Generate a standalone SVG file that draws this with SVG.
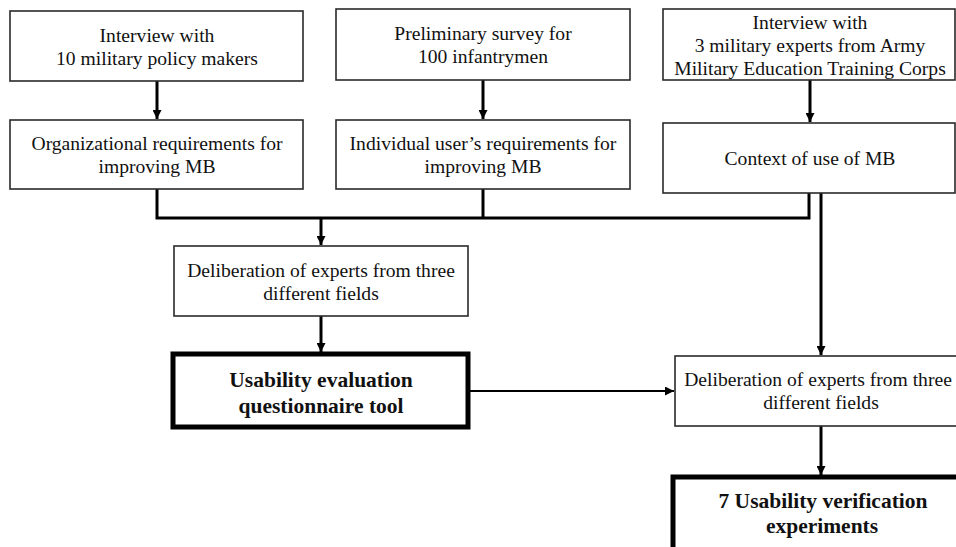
<svg xmlns="http://www.w3.org/2000/svg" width="956" height="547" viewBox="0 0 956 547">
<defs>
<style>
.box{fill:#fff;stroke:#2a2a2a;stroke-width:1.6}
.bold{fill:#fff;stroke:#000;stroke-width:5}
.t{font-family:"Liberation Serif","Times New Roman",serif;font-size:19.6px;fill:#111;text-anchor:middle}
.tb{font-family:"Liberation Serif","Times New Roman",serif;font-size:21.5px;font-weight:bold;fill:#111;text-anchor:middle}
.c{fill:none;stroke:#000;stroke-width:3}
.c2{fill:none;stroke:#000;stroke-width:2}
</style>
<marker id="ah" viewBox="0 0 10 10" refX="10" refY="5" markerWidth="9" markerHeight="9" markerUnits="userSpaceOnUse" orient="auto">
<path d="M0,0 L10,5 L0,10 z" fill="#000"/>
</marker>
</defs>
<rect width="956" height="547" fill="#fff"/>
<g id="connectors">
<line class="c" x1="157" y1="81" x2="157" y2="119" marker-end="url(#ah)"/>
<line class="c" x1="483" y1="80" x2="483" y2="119" marker-end="url(#ah)"/>
<line class="c" x1="810" y1="80" x2="810" y2="122" marker-end="url(#ah)"/>
<path class="c" d="M157,189 V218 H809 V193"/>
<line class="c" x1="483" y1="189" x2="483" y2="218"/>
<line class="c" x1="321" y1="218" x2="321" y2="245" marker-end="url(#ah)"/>
<line class="c" x1="321" y1="316" x2="321" y2="352" marker-end="url(#ah)"/>
<line class="c2" x1="470" y1="391" x2="674" y2="391" marker-end="url(#ah)"/>
<line class="c" x1="821" y1="193" x2="821" y2="355" marker-end="url(#ah)"/>
<line class="c" x1="821" y1="426" x2="821" y2="475" marker-end="url(#ah)"/>
</g>
<g id="n1">
<rect class="box" x="10" y="11" width="293" height="70"/>
<text class="t" x="157" y="42">Interview with</text>
<text class="t" x="157" y="65">10 military policy makers</text>
</g>
<g id="n2">
<rect class="box" x="10" y="120" width="293" height="69"/>
<text class="t" x="157" y="150">Organizational requirements for</text>
<text class="t" x="157" y="173">improving MB</text>
</g>
<g id="n3">
<rect class="box" x="336" y="9" width="294" height="71"/>
<text class="t" x="483" y="40">Preliminary survey for</text>
<text class="t" x="483" y="63">100 infantrymen</text>
</g>
<g id="n4">
<rect class="box" x="336" y="120" width="294" height="69"/>
<text class="t" x="483" y="150">Individual user’s requirements for</text>
<text class="t" x="483" y="173">improving MB</text>
</g>
<g id="n5">
<rect class="box" x="663" y="9" width="292" height="71"/>
<text class="t" x="810" y="29">Interview with</text>
<text class="t" x="810" y="52">3 military experts from Army</text>
<text class="t" x="810" y="75">Military Education Training Corps</text>
</g>
<g id="n6">
<rect class="box" x="663" y="123" width="292" height="70"/>
<text class="t" x="810" y="165">Context of use of MB</text>
</g>
<g id="n7">
<rect class="box" x="174" y="246" width="294" height="70"/>
<text class="t" x="321" y="277">Deliberation of experts from three</text>
<text class="t" x="321" y="300">different fields</text>
</g>
<g id="n8">
<rect class="bold" x="173" y="354" width="295" height="73"/>
<text class="tb" x="321" y="387">Usability evaluation</text>
<text class="tb" x="321" y="413">questionnaire tool</text>
</g>
<g id="n9">
<rect class="box" x="675" y="356" width="292" height="70"/>
<text class="t" x="818" y="386">Deliberation of experts from three</text>
<text class="t" x="821" y="409">different fields</text>
</g>
<g id="n10">
<rect class="bold" x="673" y="477" width="300" height="80"/>
<text class="tb" x="823" y="508">7 Usability verification</text>
<text class="tb" x="822" y="533">experiments</text>
</g>
</svg>
